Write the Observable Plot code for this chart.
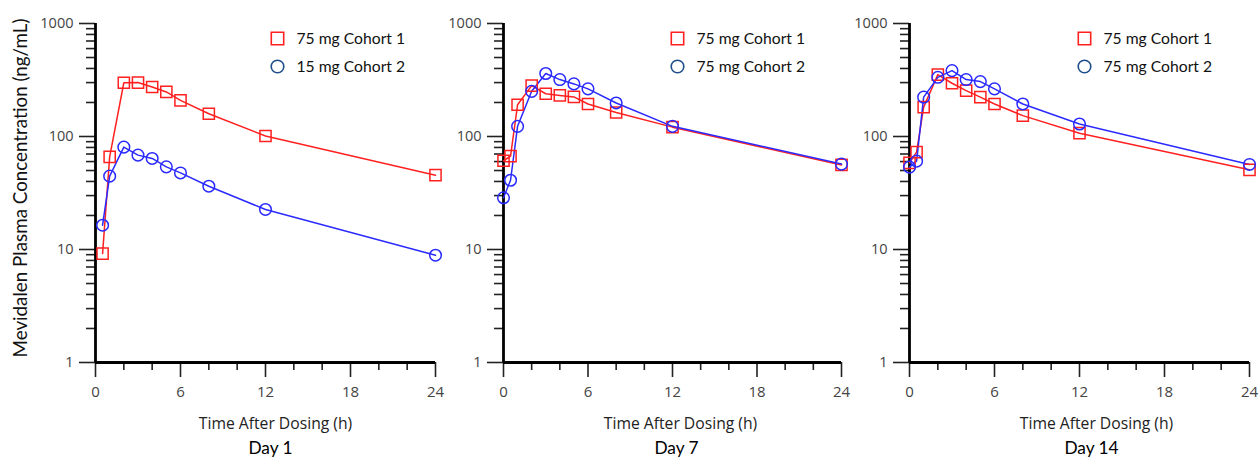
<!DOCTYPE html>
<html>
<head>
<meta charset="utf-8">
<script src="https://cdn.jsdelivr.net/npm/d3@7"></script>
<script src="https://cdn.jsdelivr.net/npm/@observablehq/plot@0.6"></script>
<style>
  html, body { margin: 0; padding: 0; background: #fff; }
  #row { display: flex; flex-direction: row; width: 1259px; height: 458px; }
  #row svg { display: block; overflow: visible; background: transparent; }
</style>
</head>
<body>
<div id="row"></div>
<script>
// ---- Data ----
const hoursDay1 = [0.5, 1, 2, 3, 4, 5, 6, 8, 12, 24];
const day1Cohort1 = [9.2, 66, 299, 300, 274, 248, 209, 159, 101, 45.5];
const day1Cohort2 = [16.4, 44.6, 80.5, 68.4, 63.9, 53.9, 47.6, 36.3, 22.6, 8.9];

const hoursDay7 = [0, 0.5, 1, 2, 3, 4, 5, 6, 8, 12, 24];
const day7Cohort1 = [61, 67, 191, 282, 239, 231, 224, 194, 163, 121, 56];
const day7Cohort2 = [28.7, 41, 123, 251, 361, 319, 292, 264, 198, 123, 57];

const hoursDay14 = [0, 0.5, 1, 2, 3, 4, 5, 6, 8, 12, 24];
const day14Cohort1 = [58.5, 72.7, 182, 353, 296, 255, 223, 194, 153, 107, 50.7];
const day14Cohort2 = [53.6, 60.5, 223, 334, 383, 319, 306, 264, 194, 129, 56.6];

const legendDay1 = ["75 mg Cohort 1", "15 mg Cohort 2"];
const legendDay7 = ["75 mg Cohort 1", "75 mg Cohort 2"];
const legendDay14 = ["75 mg Cohort 1", "75 mg Cohort 2"];
const dayLabels = ["Day 1", "Day 7", "Day 14"];

const xMajorTicks = [0, 6, 12, 18, 24];
const xMinorTicks = [2, 4, 8, 10, 14, 16, 20, 22];
const yMajorTicks = [1, 10, 100, 1000];
const yMinorTicks = [2, 3, 4, 5, 6, 7, 8, 9, 20, 30, 40, 50, 60, 70, 80, 90, 200, 300, 400, 500, 600, 700, 800, 900];

const xTitle = "Time After Dosing (h)";
const yTitle = "Mevidalen Plasma Concentration (ng/mL)";

const RED = "#ff2020";
const BLUE = "#2a2aff";
const NAVY = "#1f4e8c";

function panel(cfg) {
  const rows1 = cfg.hours.map((h, i) => ({h, v: cfg.c1[i]}));
  const rows2 = cfg.hours.map((h, i) => ({h, v: cfg.c2[i]}));
  const marks = [
    // ticks
    Plot.axisX({ticks: xMinorTicks, tickSize: 8, text: null, stroke: "#222", strokeWidth: 1.6, label: null}),
    Plot.axisY({ticks: yMinorTicks, tickSize: 9, text: null, stroke: "#222", strokeWidth: 1.6, label: null}),
    Plot.axisX({ticks: xMajorTicks, tickSize: 15, text: null, stroke: "#222", strokeWidth: 1.6, label: null}),
    Plot.axisY({ticks: yMajorTicks, tickSize: 16, text: null, stroke: "#222", strokeWidth: 1.6, label: null}),
    // tick labels
    Plot.text(xMajorTicks, {x: d => d, text: d => String(d), frameAnchor: "bottom", dy: 30, lineAnchor: "middle", fontSize: 15, fontFamily: "Open Sans", fill: "#444"}),
    Plot.text(yMajorTicks, {y: d => d, text: d => String(d), frameAnchor: "left", dx: -22, textAnchor: "end", lineAnchor: "middle", fontSize: 14.5, fontFamily: "Open Sans", fill: "#444"}),
    // axis lines
    Plot.ruleX([0], {y1: 1, y2: 1000, stroke: "#000", strokeWidth: 2.8}),
    Plot.ruleY([1], {x1: 0, x2: 24, stroke: "#000", strokeWidth: 2.8}),
    // series
    Plot.line(rows1, {x: "h", y: "v", stroke: RED, strokeWidth: 1.5}),
    Plot.line(rows2, {x: "h", y: "v", stroke: BLUE, strokeWidth: 1.5}),
    Plot.dot(rows1, {x: "h", y: "v", symbol: "square", r: 6.3, stroke: RED, strokeWidth: 1.5, fill: "none"}),
    Plot.dot(rows2, {x: "h", y: "v", symbol: "circle", r: 5.8, stroke: BLUE, strokeWidth: 1.5, fill: "none"}),
    // legend
    Plot.dot([cfg.legend[0]], {frameAnchor: "top-left", dx: cfg.legDx, dy: 15, symbol: "square", r: 7, stroke: RED, strokeWidth: 1.6, fill: "none"}),
    Plot.dot([cfg.legend[1]], {frameAnchor: "top-left", dx: cfg.legDx, dy: 43, symbol: "circle", r: 6.3, stroke: NAVY, strokeWidth: 1.6, fill: "none"}),
    Plot.text([cfg.legend[0]], {text: d => d, frameAnchor: "top-left", dx: cfg.legDx + 19, dy: 15, textAnchor: "start", lineAnchor: "middle", fontSize: 15.7, fontFamily: "Lato", fill: "#111"}),
    Plot.text([cfg.legend[1]], {text: d => d, frameAnchor: "top-left", dx: cfg.legDx + 19, dy: 43, textAnchor: "start", lineAnchor: "middle", fontSize: 15.7, fontFamily: "Lato", fill: "#111"}),
    // titles
    Plot.text([xTitle], {text: d => d, frameAnchor: "bottom", dx: cfg.titleDx, dy: 61, textAnchor: "middle", fontSize: 15.7, fontFamily: "Open Sans", fill: "#222", lineAnchor: "middle"}),
    Plot.text([cfg.day], {text: d => d, frameAnchor: "bottom", dx: cfg.dayDx, dy: 86, textAnchor: "middle", fontSize: 17.3, fontFamily: "Lato", fill: "#000", lineAnchor: "middle"})
  ];
  if (cfg.yLabel) {
    marks.push(Plot.text([yTitle], {text: d => d, frameAnchor: "left", dx: -75, dy: -5, rotate: -90, textAnchor: "middle", fontSize: 18.8, fontFamily: "Lato", fill: "#111", lineAnchor: "middle"}));
  }
  return Plot.plot({
    width: cfg.width,
    height: 458,
    marginTop: 23,
    marginBottom: 96,
    marginLeft: cfg.ml,
    marginRight: cfg.mr,
    style: {fontFamily: "Open Sans", overflow: "visible"},
    x: {domain: [0, 24], label: null},
    y: {type: "log", domain: [1, 1000], label: null},
    marks
  });
}

const row = document.getElementById("row");
row.appendChild(panel({width: 440, ml: 95, mr: 5, hours: hoursDay1, c1: day1Cohort1, c2: day1Cohort2, legend: legendDay1, day: dayLabels[0], legDx: 182, titleDx: 10, dayDx: 5, yLabel: true}));
row.appendChild(panel({width: 410, ml: 63, mr: 9, hours: hoursDay7, c1: day7Cohort1, c2: day7Cohort2, legend: legendDay7, day: dayLabels[1], legDx: 174, titleDx: 8, dayDx: 4, yLabel: false}));
row.appendChild(panel({width: 409, ml: 59, mr: 10, hours: hoursDay14, c1: day14Cohort1, c2: day14Cohort2, legend: legendDay14, day: dayLabels[2], legDx: 175, titleDx: 17, dayDx: 12, yLabel: false}));
</script>
</body>
</html>
